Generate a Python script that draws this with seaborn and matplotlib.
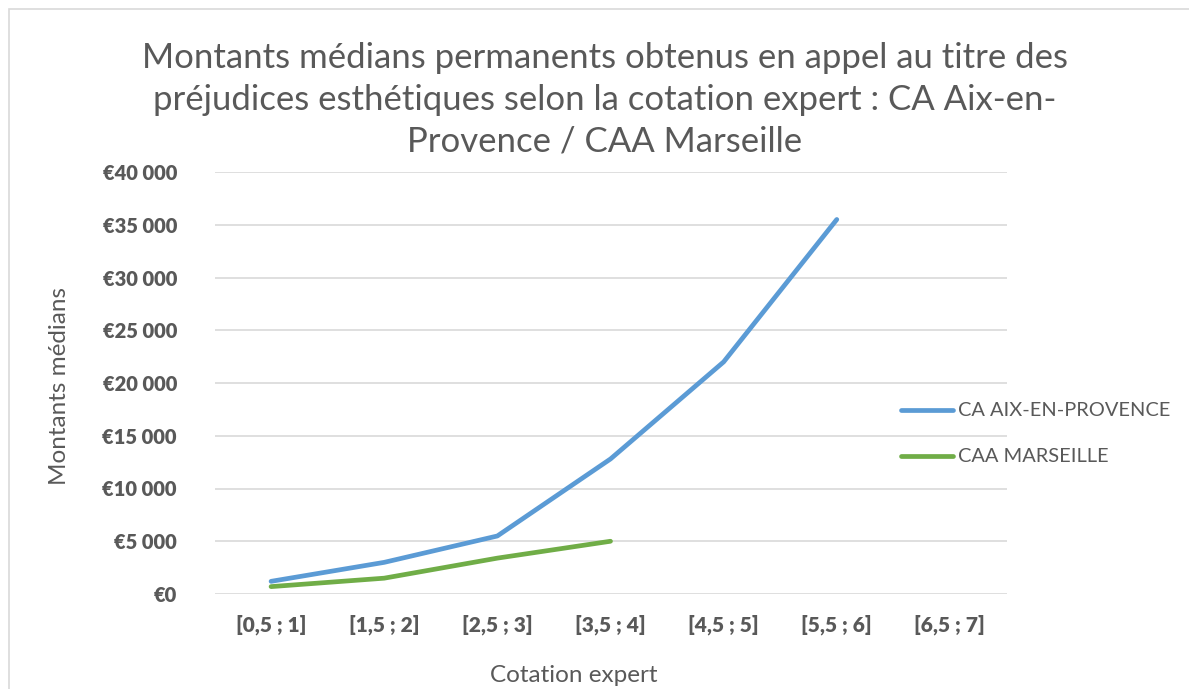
import numpy as np
import pandas as pd
import matplotlib.pyplot as plt
import seaborn as sns
from matplotlib.patches import Rectangle

categories = ['[0,5 ; 1]', '[1,5 ; 2]', '[2,5 ; 3]', '[3,5 ; 4]',
              '[4,5 ; 5]', '[5,5 ; 6]', '[6,5 ; 7]']
aix = [1200, 3000, 5500, 12800, 22000, 35500, np.nan]
marseille = [700, 1500, 3400, 5000, np.nan, np.nan, np.nan]
series_names = ['CA AIX-EN-PROVENCE', 'CAA MARSEILLE']
y_ticks = [0, 5000, 10000, 15000, 20000, 25000, 30000, 35000, 40000]

pos = list(range(len(categories)))
df = pd.concat([
    pd.DataFrame({'pos': pos, 'montant': aix, 'serie': series_names[0]}),
    pd.DataFrame({'pos': pos, 'montant': marseille, 'serie': series_names[1]}),
]).dropna()

sns.set_style('white')
plt.rcParams['font.family'] = ['Lato', 'DejaVu Sans']
txt = '#595959'

fig = plt.figure(figsize=(11.89, 6.89), dpi=100)
ax = fig.add_axes([214.5 / 1189, 1 - 594 / 689, 792 / 1189, 422 / 689])

# cadre du graphique
fig.patches.append(Rectangle((9 / 1189, -0.1), 1.2, 1 - 9 / 689 + 0.1,
                             transform=fig.transFigure, fill=False,
                             edgecolor='#D9D9D9', linewidth=1.2))

sns.lineplot(data=df, x='pos', y='montant', hue='serie', hue_order=series_names,
             palette=['#5B9BD5', '#70AD47'], linewidth=3.4, ax=ax,
             solid_capstyle='round', legend=False)

ax.set_xlim(-0.5, len(categories) - 0.5)
ax.set_ylim(0, 40000)
ax.set_yticks(y_ticks)
ax.set_yticklabels(['€' + f'{v:,}'.replace(',', ' ') for v in y_ticks],
                   fontsize=14.5, fontweight='heavy', color=txt)
ax.set_xticks(pos)
ax.set_xticklabels(categories, fontsize=15, fontweight='heavy', color=txt)
ax.tick_params(axis='y', length=0, pad=27)
ax.tick_params(axis='x', length=0, pad=15)
ax.grid(axis='y', color='#D9D9D9', linewidth=1.2)
for s in ax.spines.values():
    s.set_visible(False)
ax.set_xlabel('')
ax.set_ylabel('')

fig.text(574 / 1189, 1 - 676 / 689, 'Cotation expert', ha='center', va='center',
         fontsize=17.5, color=txt)
fig.text(59 / 1189, 1 - 386 / 689, 'Montants médians', ha='center', va='center',
         fontsize=17.5, color=txt, rotation=90)

fig.text(605 / 1189, 1 - 100 / 689,
         'Montants médians permanents obtenus en appel au titre des\n'
         'préjudices esthétiques selon la cotation expert : CA Aix-en-\n'
         'Provence / CAA Marseille',
         ha='center', va='center', fontsize=25, color=txt, linespacing=1.38)

# légende à droite
for y, name, col in [(410, series_names[0], '#5B9BD5'), (456, series_names[1], '#70AD47')]:
    fy = 1 - y / 689
    fig.add_artist(plt.Line2D([901 / 1189, 953 / 1189], [fy, fy], color=col,
                              linewidth=3.4, solid_capstyle='round'))
    fig.text(958 / 1189, fy, name, ha='left', va='center', fontsize=14.4, color=txt)

fig.savefig('out.png', dpi=100)
